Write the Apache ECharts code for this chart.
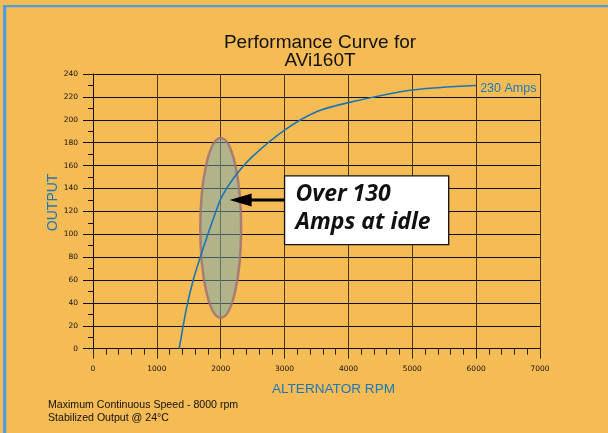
<!DOCTYPE html>
<html>
<head>
<meta charset="utf-8">
<script src="https://cdn.jsdelivr.net/npm/echarts@6/dist/echarts.min.js"></script>
<style>
html,body{margin:0;padding:0;background:#F5BB55;}
#c{width:608px;height:433px;}
</style>
</head>
<body>
<div id="c"></div>
<script>
// ---- data ----
var rpm  = [1350, 1390, 1470, 1570, 1680, 1780, 1900, 2010, 2200, 2500, 3000, 3500, 4000, 5000, 6000];
var amps = [0, 13, 37, 60, 80, 97, 116, 132, 149, 168, 191, 207, 215, 226, 230];
var xTicks = [0, 1000, 2000, 3000, 4000, 5000, 6000, 7000];
var yTicks = [0, 20, 40, 60, 80, 100, 120, 140, 160, 180, 200, 220, 240];
var endLabel = '230 Amps';
var idleRpm = 2000;          // highlighted idle speed
var idleBand = [27, 184];    // output range of the highlighted ellipse
var idleAmps = 130;          // callout value
var calloutText = ['Over 130', 'Amps at idle'];

var BG = '#F5BB55';
var BLUE = '#1E78B8';

var chart = echarts.init(document.getElementById('c'), null, {renderer: 'canvas'});

var lineData = rpm.map(function (r, i) { return [r, amps[i]]; });

var option = {
  backgroundColor: BG,
  animation: false,
  title: [
    {
      text: 'Performance Curve for\nAVi160T',
      left: 320, top: 34, textAlign: 'center', padding: 0,
      textStyle: {fontFamily: 'Liberation Sans, Arial', fontSize: 19, fontWeight: 'normal', color: '#111', lineHeight: 18}
    },
    {
      text: 'Maximum Continuous Speed - 8000 rpm\nStabilized Output @ 24\u00b0C',
      left: 48, top: 399, padding: 0,
      textStyle: {fontFamily: 'Liberation Sans, Arial', fontSize: 10.6, fontWeight: 'normal', color: '#111', lineHeight: 12.5}
    }
  ],
  graphic: [
    {type: 'rect', shape: {x: 3, y: 5, width: 605, height: 2.3}, style: {fill: '#4D9DE0'}, silent: true},
    {type: 'rect', shape: {x: 3, y: 5, width: 3.3, height: 428}, style: {fill: '#4D9DE0'}, silent: true}
  ],
  grid: {left: 93, right: 68, top: 74, bottom: 84.3, containLabel: false},
  xAxis: {
    type: 'value', min: xTicks[0], max: xTicks[xTicks.length - 1], interval: 1000,
    name: 'ALTERNATOR RPM', nameLocation: 'middle', nameGap: 33.5, nameMoveOverlap: false,
    nameTextStyle: {fontFamily: 'Liberation Sans, Arial', fontSize: 13.6, color: BLUE, padding: [0, 0, 0, 34]},
    axisLine: {show: true, onZero: false, lineStyle: {color: '#111', width: 1}},
    axisTick: {show: true, length: 10, lineStyle: {color: '#3b2a12', width: 1}},
    minorTick: {show: true, splitNumber: 5, length: 6, lineStyle: {color: '#222', width: 1}},
    axisLabel: {margin: 16, fontFamily: 'DejaVu Sans', fontSize: 7.5, color: '#111',
      formatter: function (v) { return String(v); }},
    splitLine: {show: true, lineStyle: {color: '#4a3518', width: 1}}
  },
  yAxis: {
    type: 'value', min: yTicks[0], max: yTicks[yTicks.length - 1], interval: 20,
    name: 'OUTPUT', nameLocation: 'middle', nameGap: 33, nameMoveOverlap: false,
    nameTextStyle: {fontFamily: 'Liberation Sans, Arial', fontSize: 14, color: BLUE, padding: [0, 0, 0, 18]},
    axisLine: {show: true, onZero: false, lineStyle: {color: '#111', width: 1}},
    axisTick: {show: true, length: 10, lineStyle: {color: '#111', width: 1}},
    minorTick: {show: true, splitNumber: 2, length: 5, lineStyle: {color: '#111', width: 1}},
    axisLabel: {margin: 15, fontFamily: 'DejaVu Sans', fontSize: 7.5, color: '#111',
      formatter: function (v) { return String(v); }},
    splitLine: {show: true, lineStyle: {color: '#111', width: 1}}
  },
  series: [
    {
      type: 'custom',
      z: 1,
      silent: true,
      data: [[idleRpm, (idleBand[0] + idleBand[1]) / 2]],
      renderItem: function (params, api) {
        var c = api.coord([idleRpm, (idleBand[0] + idleBand[1]) / 2]);
        var top = api.coord([idleRpm, idleBand[1]]);
        var side = api.coord([idleRpm + 320, 0]);
        var ry = c[1] - top[1];
        var rx = side[0] - c[0];
        return {
          type: 'ellipse',
          shape: {cx: c[0], cy: c[1], rx: rx, ry: ry},
          style: {fill: 'rgba(113,171,191,0.5)', stroke: 'rgba(160,115,115,0.85)', lineWidth: 2.5}
        };
      }
    },
    {
      type: 'line',
      z: 3,
      data: lineData,
      smooth: 0.3,
      showSymbol: false,
      symbol: 'none',
      lineStyle: {color: '#1976B6', width: 1.6},
      endLabel: {
        show: true, formatter: endLabel, distance: 4, offset: [0, 3],
        fontFamily: 'Liberation Sans, Arial', fontSize: 12.5, color: BLUE
      }
    },
    {
      type: 'custom',
      z: 5,
      silent: true,
      data: [[3000, idleAmps]],
      renderItem: function (params, api) {
        var tip = api.coord([2140, idleAmps]);
        var tl = api.coord([3000, 151]);
        var br = api.coord([5570, 91]);
        var bx = tl[0], by = tl[1], bw = br[0] - tl[0], bh = br[1] - tl[1];
        return {
          type: 'group',
          children: [
            {type: 'line', shape: {x1: tip[0] + 18, y1: tip[1], x2: bx, y2: tip[1]}, style: {stroke: '#000', lineWidth: 3}},
            {type: 'polygon', shape: {points: [[tip[0], tip[1]], [tip[0] + 22, tip[1] - 6.5], [tip[0] + 22, tip[1] + 6.5]]}, style: {fill: '#000'}},
            {type: 'rect', shape: {x: bx, y: by, width: bw, height: bh}, style: {fill: '#fff', stroke: '#111', lineWidth: 1.3}},
            {type: 'text', x: bx + 11, y: by + 5, style: {
              text: calloutText.join('\n'), fill: '#111',
              font: 'italic bold 23px "Open Sans", sans-serif', lineHeight: 28,
              textAlign: 'left', textVerticalAlign: 'top'}}
          ]
        };
      }
    }
  ]
};
chart.setOption(option);
</script>
</body>
</html>
